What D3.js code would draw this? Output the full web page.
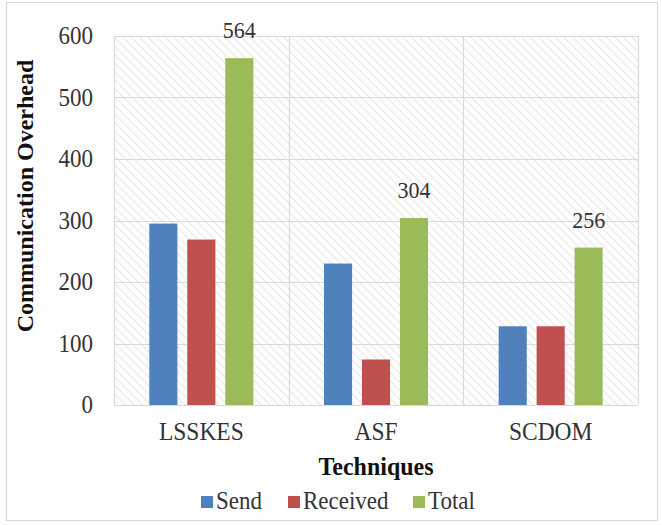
<!DOCTYPE html>
<html>
<head>
<meta charset="utf-8">
<script src="https://cdn.jsdelivr.net/npm/d3@7"></script>
<style>
  html, body { margin: 0; padding: 0; background: #fff; }
  svg { display: block; }
  svg text { font-family: "Liberation Serif", "Times New Roman", serif; }
</style>
</head>
<body>
<svg id="chart" width="662" height="525"></svg>
<script>
// Communication overhead per technique
const techniques = ["LSSKES", "ASF", "SCDOM"];
const seriesNames = ["Send", "Received", "Total"];
const sendValues = [295, 230, 128];
const receivedValues = [269, 74, 128];
const totalValues = [564, 304, 256];
const yTicks = [0, 100, 200, 300, 400, 500, 600];
const colors = ["#4f81bd", "#c0504d", "#9bbb59"];

const seriesValues = [sendValues, receivedValues, totalValues];

const svg = d3.select("#chart");
const font = "Liberation Serif, Times New Roman, serif";
const stretch = 1.08;

// outer frame
svg.append("rect")
  .attr("x", 6.5).attr("y", 2.5).attr("width", 651).attr("height", 518)
  .attr("fill", "#fff").attr("stroke", "#d9d9d9").attr("stroke-width", 1.2);

const plot = { left: 114, right: 638, top: 36, bottom: 405 };

// diagonal hatch fill for the plot area
const defs = svg.append("defs");
const pat = defs.append("pattern")
  .attr("id", "hatch")
  .attr("patternUnits", "userSpaceOnUse")
  .attr("width", 6).attr("height", 6)
  .attr("patternTransform", "rotate(-45)");
pat.append("rect").attr("width", 6).attr("height", 6).attr("fill", "#fff");
pat.append("line")
  .attr("x1", 0).attr("y1", 0).attr("x2", 0).attr("y2", 6)
  .attr("stroke", "#d4d4d4").attr("stroke-width", 1.2);

svg.append("rect")
  .attr("x", plot.left).attr("y", plot.top)
  .attr("width", plot.right - plot.left).attr("height", plot.bottom - plot.top)
  .attr("fill", "url(#hatch)");

const x0 = d3.scaleBand().domain(techniques).range([plot.left, plot.right]).paddingInner(0).paddingOuter(0);
const x1 = d3.scaleBand().domain(seriesNames).range([0, x0.bandwidth()]).paddingInner(0.26).paddingOuter(0.93);
const y = d3.scaleLinear().domain([0, 600]).range([plot.bottom, plot.top]);

// horizontal gridlines
svg.append("g").selectAll("line").data(yTicks).join("line")
  .attr("x1", plot.left).attr("x2", plot.right)
  .attr("y1", d => Math.round(y(d)) + 0.5).attr("y2", d => Math.round(y(d)) + 0.5)
  .attr("stroke", "#d9d9d9").attr("stroke-width", 1.2);

// vertical gridlines at category boundaries
const bounds = techniques.map(t => x0(t)).concat([plot.right]);
svg.append("g").selectAll("line").data(bounds).join("line")
  .attr("x1", d => Math.round(d) + 0.5).attr("x2", d => Math.round(d) + 0.5)
  .attr("y1", plot.top).attr("y2", plot.bottom)
  .attr("stroke", "#d9d9d9").attr("stroke-width", 1.2);

// bars
const groups = svg.append("g").selectAll("g").data(techniques).join("g")
  .attr("transform", t => `translate(${x0(t)},0)`);
groups.selectAll("rect")
  .data((t, i) => seriesNames.map((s, j) => ({ s, j, v: seriesValues[j][i] })))
  .join("rect")
  .attr("x", d => x1(d.s))
  .attr("width", x1.bandwidth())
  .attr("y", d => y(d.v))
  .attr("height", d => y(0) - y(d.v))
  .attr("fill", d => colors[d.j]);

// value labels on the totals
svg.append("g").selectAll("text").data(techniques).join("text")
  .attr("transform", (t, i) =>
    `translate(${x0(t) + x1("Total") + x1.bandwidth() / 2},${y(totalValues[i]) - 20}) scale(1,${stretch})`)
  .attr("text-anchor", "middle")
  .style("font-family", font).style("font-size", "22px").attr("fill", "#333")
  .text((t, i) => totalValues[i]);

// y axis tick labels
const yAxis = d3.axisLeft(y).tickValues(yTicks).tickSize(0).tickPadding(21);
const yg = svg.append("g").attr("transform", `translate(${plot.left},0)`).call(yAxis);
yg.select(".domain").remove();
yg.attr("font-family", null).attr("font-size", null);
yg.selectAll("text")
  .attr("transform", `scale(1,${stretch})`)
  .style("font-family", font).style("font-size", "23px").attr("fill", "#333");

// x axis category labels
const xAxis = d3.axisBottom(x0).tickSize(0);
const xg = svg.append("g").attr("transform", `translate(0,${plot.bottom})`).call(xAxis);
xg.select(".domain").remove();
xg.attr("font-family", null).attr("font-size", null);
xg.selectAll("text")
  .attr("y", 0).attr("dy", null)
  .attr("transform", `translate(0,35) scale(1,${stretch})`)
  .style("font-family", font).style("font-size", "23.5px").attr("fill", "#333");

// axis titles
svg.append("text")
  .attr("transform", `translate(${(plot.left + plot.right) / 2},475) scale(1,${stretch})`)
  .attr("text-anchor", "middle")
  .style("font-family", font).style("font-size", "24px").style("font-weight", "bold").attr("fill", "#111")
  .text("Techniques");

svg.append("text")
  .attr("transform", `translate(33,196) rotate(-90)`)
  .attr("text-anchor", "middle")
  .style("font-family", font).style("font-size", "24px").style("font-weight", "bold").attr("fill", "#111")
  .text("Communication Overhead");

// legend
const legendX = [201, 288, 413];
const legend = svg.append("g").selectAll("g").data(seriesNames).join("g")
  .attr("transform", (d, i) => `translate(${legendX[i]},509)`);
legend.append("rect").attr("x", 0).attr("y", -13).attr("width", 12).attr("height", 12)
  .attr("fill", (d, i) => colors[i]);
legend.append("text")
  .attr("transform", `translate(15,0) scale(1,${stretch})`)
  .style("font-family", font).style("font-size", "23px").attr("fill", "#333")
  .text(d => d);
</script>
</body>
</html>
